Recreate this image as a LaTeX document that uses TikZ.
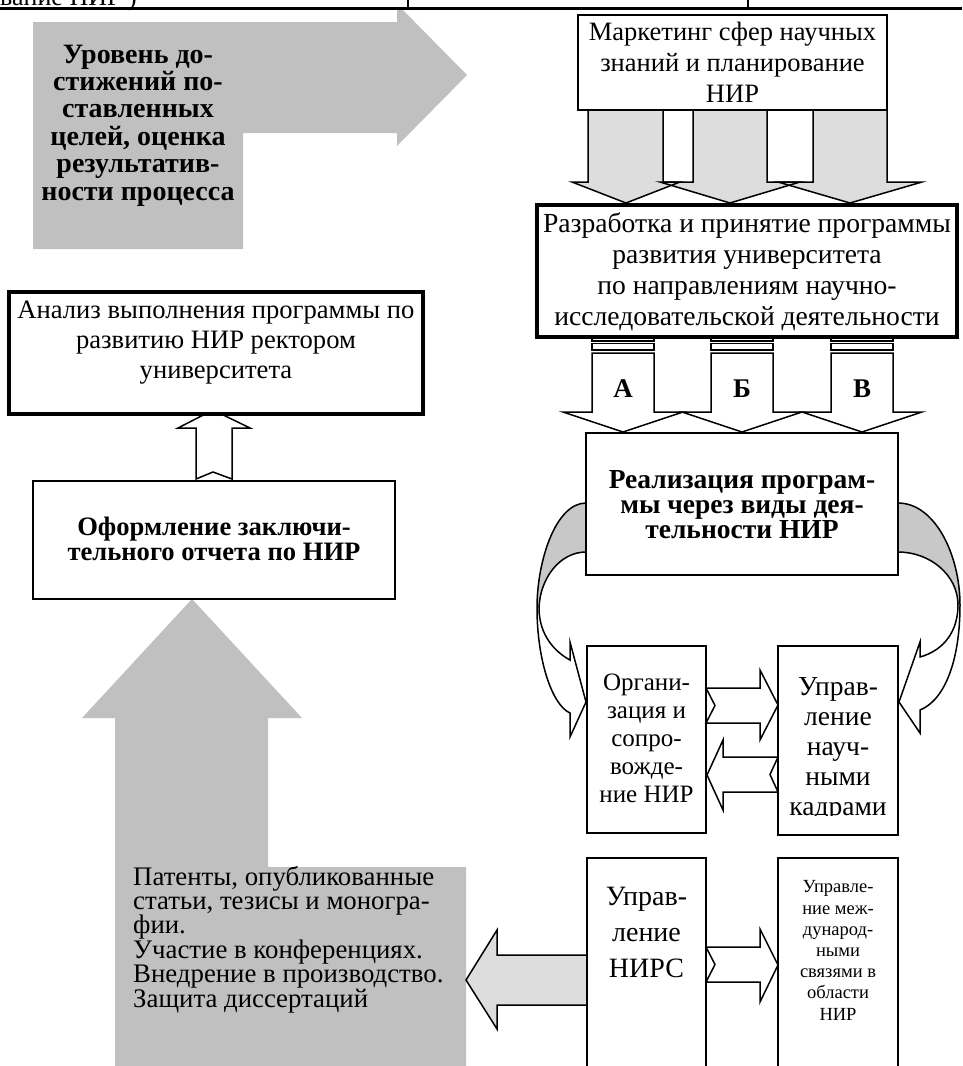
\documentclass[tikz,border=0pt]{standalone}
\usepackage{fontspec}
\setmainfont{Liberation Serif}
\definecolor{bgray}{HTML}{C0C0C0}
\definecolor{lgray}{HTML}{DDDDDD}
\definecolor{cgray}{HTML}{C8C8C8}
\newcommand\fsz[2]{\fontsize{#1}{#2}\selectfont}
\tikzset{
  box/.style={draw, line width=2pt, fill=white, inner sep=0pt, rectangle},
  thickbox/.style={box, line width=4.5pt},
  txt/.style={inner sep=0pt, align=center, anchor=base},
  blk/.style={draw, line width=1.5pt, line join=miter},
}
\begin{document}
\begin{tikzpicture}[x=1pt,y=-1pt]
\useasboundingbox (0,0) rectangle (962,1066);
\clip (0,0) rectangle (962,1066);

% ---------- top-left big gray arrow
\fill[bgray] (33,22) -- (397,22) -- (397,4) -- (467,75) -- (397,146) -- (397,133)
  -- (243,133) -- (243,249) -- (33,249) -- cycle;
% (anchor base = baseline of the last line)
\node[txt, font={\fsz{28}{27.4}\bfseries}] (lvl) at (138,200)
  {Уровень до-\\стижений по-\\ставленных\\целей, оценка\\результатив-\\ности процесса};

% ---------- table fragment at the top
\fill[white] (0,-5) rectangle (962,7);
\node[inner sep=0pt, anchor=base west, font=\fsz{26}{30}] (hdr) at (0,5) {вание НИР )};
\draw[line width=3pt] (0,8) -- (962,8);
\draw[line width=1.3pt] (408,0) -- (408,8) (748,0) -- (748,8);

% ---------- Marketing box and three gray arrows
\foreach \xl/\xr/\hl/\hr/\c in {588/663/572/680/626, 693/767/660/800/730, 813/887/778/922/850}{
  \fill[lgray] (\xl,110) -- (\xl,182) -- (\hl,182) -- (\c,203) -- (\hr,182) -- (\xr,182) -- (\xr,110) -- cycle;
}
\foreach \xl/\xr/\hl/\hr/\c in {588/663/572/680/626, 693/767/660/800/730, 813/887/778/922/850}{
  \draw[blk] (\xl,110) -- (\xl,182) -- (\hl,182) -- (\c,203) -- (\hr,182) -- (\xr,182) -- (\xr,110);
}
\node[box, minimum width=309pt, minimum height=95pt] (mk) at (732.5,62.5) {};
\node[txt, font=\fsz{26.5}{31}] (mkt) at (732.5,102)
  {Маркетинг сфер научных\\знаний и планирование\\НИР};

% ---------- Programme box
\node[thickbox, minimum width=420pt, minimum height=132pt] (dev) at (747,271) {};
\node[txt, font=\fsz{27.6}{30.7}] (devt) at (747,325)
  {Разработка и принятие программы\\развития университета\\по направлениям научно-\\исследовательской деятельности};

% ---------- striped arrows А Б В
\foreach \c/\l/\n in {623/А/a, 742/Б/b, 862/В/c}{
  \draw[blk, fill=white] ({\c-31},338) rectangle ({\c+31},341);
  \draw[blk, fill=white] ({\c-31},343.5) rectangle ({\c+31},350);
  \draw[blk, fill=white] ({\c-31},353) -- ({\c-31},412) -- ({\c-60},412) -- (\c,432)
     -- ({\c+60},412) -- ({\c+31},412) -- ({\c+31},353) -- cycle;
  \node[txt, font={\fsz{27}{30}\bfseries}] (lt\n) at (\c,397) {\l};
}

% ---------- curved arrows
% left
\fill[cgray] (586,503) .. controls (556,503) and (537,560) .. (537,608) -- (539,608)
  .. controls (540,578) and (560,552) .. (586,552) -- cycle;
\fill[white] (537,608) .. controls (537,660) and (552,705) .. (570,713) -- (570,737)
  -- (586,702) -- (570,642) -- (570,660) .. controls (555,652) and (539,635) .. (539,608) -- cycle;
\draw[blk] (586,503) .. controls (556,503) and (537,560) .. (537,608)
  .. controls (537,660) and (552,705) .. (570,713) -- (570,737) -- (586,702) -- (570,642) -- (570,660)
  .. controls (555,652) and (539,635) .. (539,608) .. controls (540,578) and (560,552) .. (586,552);
% right
\fill[cgray] (898,503) .. controls (935,503) and (960,555) .. (960,605) -- (958,605)
  .. controls (958,575) and (930,552) .. (898,552) -- cycle;
\fill[white] (960,605) .. controls (960,660) and (945,700) .. (920,710) -- (920,733)
  -- (899,702) -- (920,642) -- (920,657) .. controls (945,650) and (958,630) .. (958,605) -- cycle;
\draw[blk] (898,503) .. controls (935,503) and (960,555) .. (960,605)
  .. controls (960,660) and (945,700) .. (920,710) -- (920,733) -- (899,702) -- (920,642) -- (920,657)
  .. controls (945,650) and (958,630) .. (958,605) .. controls (958,575) and (930,552) .. (898,552);

% ---------- Realisation box
\node[box, minimum width=312pt, minimum height=142pt] (real) at (742,504) {};
\node[txt, font={\fsz{27.5}{25}\bfseries}] (realt) at (742,538)
  {Реализация програм-\\мы через виды дея-\\тельности НИР};

% ---------- Organisation / staff boxes
\node[box, minimum width=119pt, minimum height=187pt] (org) at (646.5,739.5) {};
\node[txt, font=\fsz{25}{28}] (orgt) at (646.5,802)
  {Органи-\\зация и\\сопро-\\вожде-\\ние НИР};
\node[box, minimum width=120pt, minimum height=189pt] (staff) at (838,740.5) {};
\begin{scope}
  \clip (779,647) rectangle (897,815);
  \node[txt, font=\fsz{27.5}{30}] (stafft) at (838,815)
    {Управ-\\ление\\науч-\\ными\\кадрами};
\end{scope}
\draw[blk, fill=white] (706,688) -- (760,688) -- (760,670) -- (778,705) -- (760,740)
  -- (760,723) -- (706,723) -- (715,705.5) -- cycle;
\draw[blk, fill=white] (778,757) -- (723,757) -- (723,740) -- (707,775) -- (723,810)
  -- (723,792) -- (778,792) -- (770,774.5) -- cycle;

% ---------- bottom-left big gray up arrow
\fill[bgray] (192,599) -- (302,718) -- (268,718) -- (268,867) -- (466,867) -- (466,1070)
  -- (115,1070) -- (115,718) -- (82,718) -- cycle;
\node[inner sep=0pt, align=left, anchor=base west, font=\fsz{26.8}{24.4}] (res) at (133,1007)
  {Патенты, опубликованные\\статьи, тезисы и моногра-\\фии.\\Участие в конференциях.\\Внедрение в производство.\\Защита диссертаций};

% ---------- НИРС and international boxes
\draw[blk, fill=lgray] (587,955) -- (497,955) -- (497,930) -- (466,980) -- (497,1029)
  -- (497,1005) -- (587,1005);
\node[box, minimum width=119pt, minimum height=212pt] (nirs) at (646.5,964) {};
\node[txt, font=\fsz{28}{36}] (nirst) at (646.5,977) {Управ-\\ление\\НИРС};
\node[box, minimum width=120pt, minimum height=212pt] (intl) at (838,964) {};
\node[txt, font=\fsz{18.5}{21.2}] (intlt) at (838,1020)
  {Управле-\\ние меж-\\дународ-\\ными\\связями в\\области\\НИР};
\draw[blk, fill=white] (706,947) -- (760,947) -- (760,929) -- (778,965) -- (760,1002)
  -- (760,982) -- (706,982) -- (715,964.5) -- cycle;

% ---------- final report box and analysis box
\node[box, minimum width=362pt, minimum height=118pt] (rep) at (214,540) {};
\node[txt, font={\fsz{26.6}{23}\bfseries}] (rept) at (214,560)
  {Оформление заключи-\\тельного отчета по НИР};
\draw[blk, fill=white] (196,479) -- (196,428) -- (178,428) -- (213,410) -- (250,428)
  -- (232,428) -- (232,479) -- (213,472) -- cycle;
\node[box, line width=4pt, minimum width=414pt, minimum height=122pt] (an) at (216,353) {};
\node[txt, font=\fsz{26.6}{30}] (ant) at (216,378)
  {Анализ выполнения программы по\\развитию НИР ректором\\университета};
\end{tikzpicture}
\end{document}
